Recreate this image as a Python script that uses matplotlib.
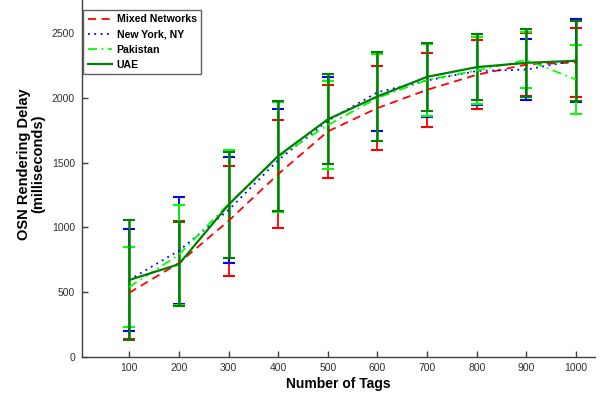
import matplotlib
matplotlib.use("Agg")
import matplotlib.pyplot as plt
from matplotlib.lines import Line2D

# values
tags = [100, 200, 300, 400, 500, 600, 700, 800, 900, 1000]

mixed = [495, 725, 1050, 1411, 1741, 1921, 2062, 2178, 2257, 2273]
mixed_err = [355, 322, 425, 418, 357, 324, 287, 267, 243, 267]

new_york = [595, 820, 1134, 1519, 1823, 2043, 2134, 2207, 2218, 2290]
new_york_err = [391, 413, 409, 392, 337, 300, 279, 260, 238, 322]

pakistan = [540, 789, 1180, 1545, 1789, 2000, 2137, 2211, 2292, 2141]
pakistan_err = [311, 384, 415, 425, 341, 335, 277, 261, 219, 264]

uae = [594, 716, 1175, 1551, 1834, 2011, 2162, 2237, 2270, 2286]
uae_err = [465, 326, 409, 424, 347, 345, 263, 253, 264, 307]

labels = ['Mixed Networks', 'New York, NY', 'Pakistan', 'UAE']

plt.rcParams['font.family'] = ['Liberation Sans', 'DejaVu Sans']

fig = plt.figure(figsize=(6.05, 3.96), dpi=100)
ax = fig.add_axes([82 / 605, 1 - 357 / 396, 513 / 605, 357 / 396])

styles = [
    dict(color='#ff0000', lw=1.3, dashes=(4.5, 3)),
    dict(color='#0000ff', lw=1.3, dashes=(1, 2.5)),
    dict(color='#00ff00', lw=1.3, dashes=(5, 2.5, 1, 2.5)),
    dict(color='#007f00', lw=1.6, ls='-'),
]
series = [(mixed, mixed_err), (new_york, new_york_err),
          (pakistan, pakistan_err), (uae, uae_err)]

for (vals, err), st in zip(series, styles):
    elw = 1.8 if st['color'] == '#007f00' else 1.3
    ax.errorbar(tags, vals, yerr=err, capsize=4.5, elinewidth=elw,
                capthick=1.5, **st)

ax.set_xlim(5, 1038)
ax.set_ylim(0, 2755)
ax.set_xticks(tags)
ax.set_yticks([0, 500, 1000, 1500, 2000, 2500])

for side in ['top', 'right']:
    ax.spines[side].set_visible(False)
for side in ['left', 'bottom']:
    ax.spines[side].set_color('#404040')
    ax.spines[side].set_linewidth(1.0)

ax.tick_params(direction='in', length=4, width=1, colors='#404040',
               labelsize=7.5, labelcolor='#303030')
ax.tick_params(axis='x', pad=4)
ax.tick_params(axis='y', pad=5)

ax.set_xlabel('Number of Tags', fontsize=10, fontweight='bold', labelpad=3)
ax.set_ylabel('OSN Rendering Delay\n(milliseconds)', fontsize=10.5,
              fontweight='bold', linespacing=1.0)
ax.yaxis.set_label_coords(-0.072, 0.54)

handles = [Line2D([], [], **st) for st in styles]
leg = ax.legend(handles, labels, loc='upper left',
                bbox_to_anchor=(0.0025, 0.972),
                borderaxespad=0, fancybox=False, framealpha=1,
                edgecolor='#606060', handlelength=2.3, handletextpad=0.45,
                labelspacing=0.5, borderpad=0.4,
                prop={'size': 7.6, 'weight': 'bold'})
leg.get_frame().set_linewidth(1.0)

fig.savefig('out.png', dpi=100)
